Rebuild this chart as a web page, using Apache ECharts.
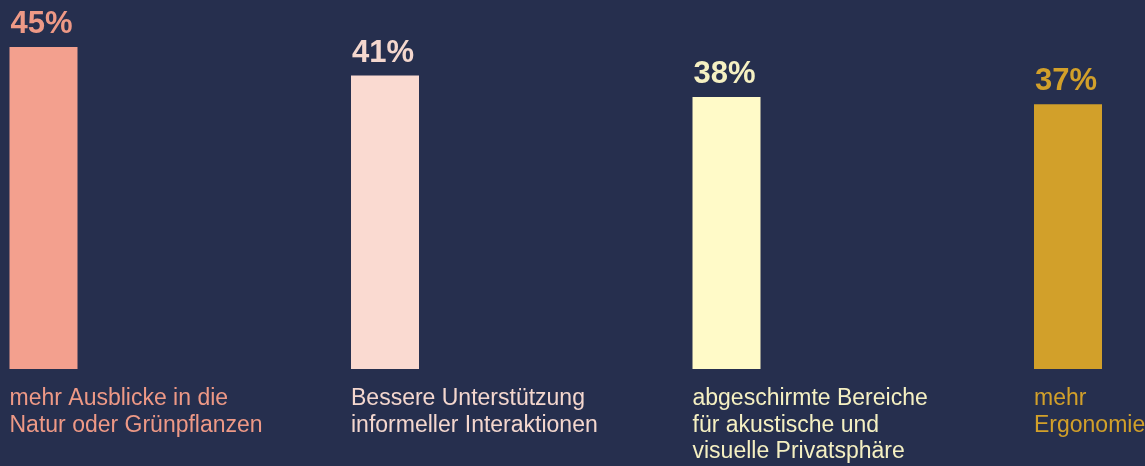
<!DOCTYPE html>
<html>
<head>
<meta charset="utf-8">
<script src="https://cdn.jsdelivr.net/npm/echarts@6/dist/echarts.min.js"></script>
<style>
  html, body { margin: 0; padding: 0; background: #262f4e; }
  #chart { width: 1145px; height: 466px; }
</style>
</head>
<body>
<div id="chart"></div>
<script>
// Survey answers: share of respondents per wish
const categories = [
  'mehr Ausblicke in die\nNatur oder Grünpflanzen',
  'Bessere Unterstützung\ninformeller Interaktionen',
  'abgeschirmte Bereiche\nfür akustische und\nvisuelle Privatsphäre',
  'mehr\nErgonomie'
];
const values = [45, 41, 38, 37];
const barColors = ['#f3a08e', '#fadad1', '#fffac8', '#d2a02a'];
const textColors = ['#ee9986', '#f4d7ce', '#f5f0c2', '#d2a02a'];

const FONT = '"Liberation Sans", Arial, Helvetica, sans-serif';

const chart = echarts.init(document.getElementById('chart'), null, { renderer: 'canvas' });

// x positions are the category indices on a plain numeric axis
const points = values.map((v, i) => [i, v]);

chart.setOption({
  backgroundColor: '#262f4e',
  animation: false,
  grid: { left: 43.5, right: 77, top: 47, bottom: 97, containLabel: false },
  xAxis: {
    type: 'value',
    min: 0,
    max: categories.length - 1,
    show: false,
    splitLine: { show: false }
  },
  yAxis: {
    type: 'value',
    min: 0,
    max: 45,
    show: false,
    splitLine: { show: false }
  },
  series: [
    {
      // visible bars with the percentage above, left-aligned to the bar
      type: 'bar',
      barWidth: 68,
      data: points.map((p, i) => ({
        value: p,
        itemStyle: { color: barColors[i] },
        label: { color: textColors[i] }
      })),
      label: {
        show: true,
        position: [0, 0],
        offset: [1, -7],
        align: 'left',
        verticalAlign: 'bottom',
        formatter: p => p.value[1] + '%',
        fontFamily: FONT,
        fontWeight: 'bold',
        fontSize: 31
      }
    },
    {
      // transparent twin bars carrying the category text below each bar
      type: 'bar',
      barWidth: 68,
      barGap: '-100%',
      silent: true,
      data: points.map((p, i) => ({
        value: p,
        itemStyle: { color: 'rgba(0,0,0,0)' },
        label: { color: textColors[i] }
      })),
      label: {
        show: true,
        position: [0, '100%'],
        offset: [0, 16.5],
        align: 'left',
        verticalAlign: 'top',
        formatter: p => categories[p.dataIndex],
        fontFamily: FONT,
        fontSize: 23,
        lineHeight: 26.5
      }
    }
  ]
});
</script>
</body>
</html>
